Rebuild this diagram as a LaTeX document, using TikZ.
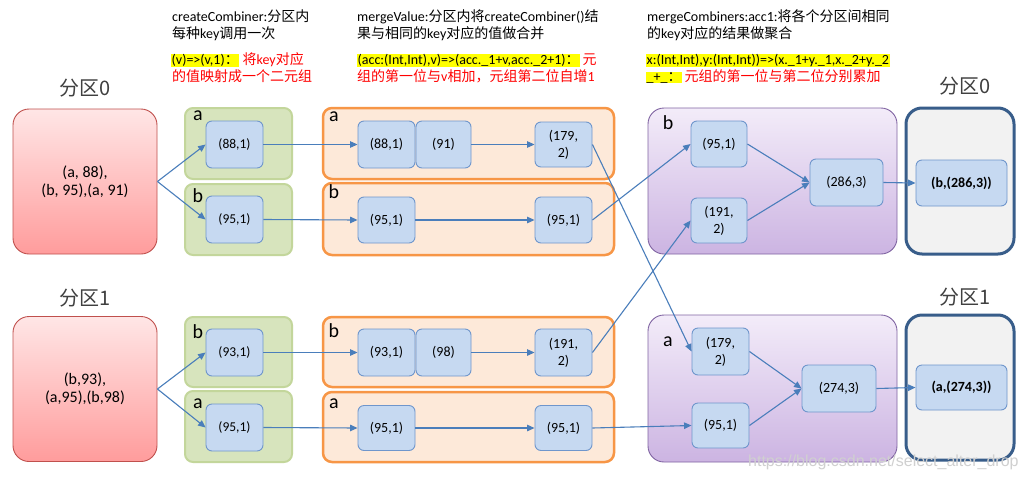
\documentclass[tikz,border=0pt]{standalone}
\usepackage{fontspec}
\setmainfont{Carlito}
\newfontfamily\cjk{Noto Sans CJK SC}
\newfontfamily\wmfont{Liberation Sans}
\usetikzlibrary{arrows.meta}
\definecolor{arr}{HTML}{4A7EBB}
\definecolor{bfill}{HTML}{C6D9F1}
\definecolor{bdraw}{HTML}{6F96CC}
\definecolor{gfill}{HTML}{D7E4BD}
\definecolor{gdraw}{HTML}{C3D69B}
\definecolor{ofill}{HTML}{FDE9D9}
\definecolor{odraw}{HTML}{F79646}
\definecolor{pdraw}{HTML}{8064A2}
\definecolor{ptop}{HTML}{F3ECF9}
\definecolor{pbot}{HTML}{CCB4E2}
\definecolor{rtop}{HTML}{FFE6E6}
\definecolor{rbot}{HTML}{FF9C9C}
\definecolor{rdraw}{HTML}{C0504D}
\definecolor{fdraw}{HTML}{385D8A}
\definecolor{ffill}{HTML}{F2F2F2}
\definecolor{hl}{HTML}{FFFF00}
\definecolor{redtxt}{HTML}{FF0000}
\definecolor{plabel}{HTML}{404040}
\definecolor{wm}{HTML}{D0D0D0}
\tikzset{
  bnode/.style={draw=bdraw, fill=bfill, rounded corners=6pt, line width=0.9pt,
    minimum width=57pt, minimum height=47pt, inner sep=0pt, align=center,
    font=\fontsize{14}{17}\selectfont},
  gnode/.style={bnode, font=\fontsize{13.5}{15}\selectfont},
  redbox/.style={draw=rdraw, line width=0.9pt, top color=rtop, bottom color=rbot,
    rounded corners=16pt, minimum width=144pt, minimum height=145pt, inner sep=0pt,
    align=center, font=\fontsize{16}{18}\selectfont},
  greenbox/.style={draw=gdraw, fill=gfill, line width=2pt, rounded corners=8pt,
    minimum width=107pt, minimum height=71pt, inner sep=0pt},
  orangebox/.style={draw=odraw, fill=ofill, line width=2.5pt, rounded corners=9pt,
    minimum width=291pt, minimum height=71pt, inner sep=0pt},
  purplebox/.style={draw=pdraw, line width=0.9pt, top color=ptop, bottom color=pbot,
    rounded corners=16pt, minimum width=249pt, minimum height=146pt, inner sep=0pt},
  finalbox/.style={draw=fdraw, fill=ffill, line width=3pt, rounded corners=16pt,
    minimum width=108pt, minimum height=146pt, inner sep=0pt},
  fnode/.style={bnode, minimum width=91pt, minimum height=46pt,
    font=\fontsize{14}{16}\selectfont\bfseries},
  keylab/.style={inner sep=0pt, font=\fontsize{20}{20}\selectfont},
  plab/.style={inner sep=0pt, text=plabel, font=\fontsize{20}{20}\selectfont\cjk},
  txt/.style={anchor=base west, inner sep=0pt, font=\fontsize{14}{16}\selectfont},
  hltxt/.style={txt, fill=hl, inner ysep=0.5pt, inner xsep=0.5pt},
  rtxt/.style={txt, text=redtxt},
  conn/.style={draw=arr, line width=1.1pt, -{Triangle[length=7.5pt,width=6.5pt]}}
}
\begin{document}
\begin{tikzpicture}[x=1pt,y=-1pt]
\useasboundingbox (0,0) rectangle (1026,480);
\fill[white] (0,0) rectangle (1026,480);

% ---------- top texts ----------
\node[txt] (t1a) at (172,21) {createCombiner:{\cjk 分区内}};
\node[txt] (t1b) at (172,38) {{\cjk 每种}key{\cjk 调用一次}};
\node[hltxt] (t1c) at (171,64.5) {(v)=>(v,1){\cjk ：}};
\node[rtxt] (t1d) at ([xshift=3pt]t1c.base east) {{\cjk 将}key{\cjk 对应}};
\node[rtxt] (t1e) at (172,81) {\cjk 的值映射成一个二元组};

\node[txt] (t2a) at (357,21) {mergeValue:{\cjk 分区内将}createCombiner(){\cjk 结}};
\node[txt] (t2b) at (357,38) {{\cjk 果与相同的}key{\cjk 对应的值做合并}};
\node[hltxt] (t2c) at (357,64.5) {(acc:(Int,Int),v)=>(acc.\_1+v,acc.\_2+1){\cjk ：}};
\node[rtxt] (t2d) at ([xshift=2pt]t2c.base east) {\cjk 元};
\node[rtxt] (t2e) at (357,81) {{\cjk 组的第一位与}v{\cjk 相加，元组第二位自增}1};

\node[txt] (t3a) at (647,21) {mergeCombiners:acc1:{\cjk 将各个分区间相同}};
\node[txt] (t3b) at (647,38) {{\cjk 的}key{\cjk 对应的结果做聚合}};
\node[hltxt] (t3c) at (646,64.5) {x:(Int,Int),y:(Int,Int))=>(x.\_1+y.\_1,x.\_2+y.\_2};
\node[hltxt] (t3d) at (646,81) {\_+\_{\cjk ：}};
\node[rtxt] (t3e) at ([xshift=2pt]t3d.base east) {\cjk 元组的第一位与第二位分别累加};

% ---------- partition labels ----------
\node[plab] (pl0) at (85,88) {分区0};
\node[plab] (pl1) at (85,298) {分区1};
\node[plab] (pr0) at (965,86) {分区0};
\node[plab] (pr1) at (965,297) {分区1};

% ---------- red source boxes ----------
\node[redbox] (r0) at (85,181.5) {(a, 88),\\(b, 95),(a, 91)};
\node[redbox] (r1) at (85,389) {(b,93),\\(a,95),(b,98)};

% ---------- green boxes ----------
\node[greenbox] (g0a) at (238.5,143.5) {};
\node[greenbox] (g0b) at (238.5,219.5) {};
\node[greenbox, minimum height=70pt] (g1b) at (238.5,352) {};
\node[greenbox] (g1a) at (238.5,426.5) {};
\node[keylab] (lg0a) at (198,116) {a};
\node[keylab] (lg0b) at (198,196) {b};
\node[keylab] (lg1b) at (198,332) {b};
\node[keylab] (lg1a) at (198,404) {a};
\node[gnode] (c0a) at (234.5,144.5) {(88,1)};
\node[gnode] (c0b) at (234.5,219.5) {(95,1)};
\node[gnode] (c1b) at (234.5,352.5) {(93,1)};
\node[gnode] (c1a) at (234.5,427.5) {(95,1)};

% ---------- orange boxes ----------
\node[orangebox] (o0a) at (468.5,143.5) {};
\node[orangebox, minimum height=72pt] (o0b) at (468.5,219) {};
\node[orangebox, minimum height=70pt] (o1b) at (468.5,352) {};
\node[orangebox, minimum height=70pt] (o1a) at (468.5,427) {};
\node[keylab] (lo0a) at (334,117) {a};
\node[keylab] (lo0b) at (334,192) {b};
\node[keylab] (lo1b) at (334,331) {b};
\node[keylab] (lo1a) at (334,404) {a};
\node[bnode] (m0a1) at (386.5,144.5) {(88,1)};
\node[bnode, minimum width=55pt] (m0a2) at (443.5,144.5) {(91)};
\node[bnode, minimum height=45pt] (s0a) at (563.5,144.5) {(179,\\2)};
\node[bnode, minimum height=46pt] (m0b) at (386.5,220) {(95,1)};
\node[bnode, minimum height=46pt] (s0b) at (563.5,220) {(95,1)};
\node[bnode] (m1b1) at (386.5,352.5) {(93,1)};
\node[bnode, minimum width=55pt] (m1b2) at (443.5,352.5) {(98)};
\node[bnode] (s1b) at (563.5,352.5) {(191,\\2)};
\node[bnode, minimum height=45pt] (m1a) at (386.5,428) {(95,1)};
\node[bnode, minimum height=45pt] (s1a) at (563.5,428) {(95,1)};

% ---------- purple boxes ----------
\node[purplebox] (p0) at (772.5,181) {};
\node[purplebox, minimum height=147pt] (p1) at (772.5,388.5) {};
\node[keylab] (lp0) at (668,123) {b};
\node[keylab] (lp1) at (668,342) {a};
\node[bnode, minimum width=56pt, minimum height=46pt] (q0a) at (719,144) {(95,1)};
\node[bnode, minimum width=56pt, minimum height=45pt] (q0b) at (719,220.5) {(191,\\2)};
\node[bnode, minimum width=73pt] (u0) at (846.5,182.5) {(286,3)};
\node[bnode] (q1a) at (720.5,351.5) {(179,\\2)};
\node[bnode, minimum height=45pt] (q1b) at (720.5,425.5) {(95,1)};
\node[bnode, minimum width=74pt] (u1) at (839,388.5) {(274,3)};

% ---------- final boxes ----------
\node[finalbox] (f0) at (960,181) {};
\node[finalbox, minimum height=145pt] (f1) at (960,387.5) {};
\node[fnode] (f0n) at (961.5,183) {(b,(286,3))};
\node[fnode, minimum height=45pt] (f1n) at (961.5,387.5) {(a,(274,3))};

% ---------- connectors ----------
\draw[conn] (r0.east) -- (c0a.west);
\draw[conn] (r0.east) -- (c0b.west);
\draw[conn] (r1.east) -- (c1b.west);
\draw[conn] (r1.east) -- (c1a.west);

\draw[conn] (c0a.east) -- (m0a1.west);
\draw[conn] (m0a2.east) -- (s0a.west);
\draw[conn] (c0b.east) -- (m0b.west);
\draw[conn] (m0b.east) -- (s0b.west);
\draw[conn] (c1b.east) -- (m1b1.west);
\draw[conn] (m1b2.east) -- (s1b.west);
\draw[conn] (c1a.east) -- (m1a.west);
\draw[conn] (m1a.east) -- (s1a.west);

\draw[conn] (s0a.east) -- (q1a.west);
\draw[conn] (s0b.east) -- (q0a.west);
\draw[conn] (s1b.east) -- (q0b.west);
\draw[conn] (s1a.east) -- (q1b.west);

\draw[conn] (q0a.east) -- (u0.west);
\draw[conn] (q0b.east) -- (u0.west);
\draw[conn] (u0.east) -- (f0n.west);
\draw[conn] (q1a.east) -- (u1.west);
\draw[conn] (q1b.east) -- (u1.west);
\draw[conn] (u1.east) -- (f1n.west);

% ---------- watermark ----------
\node[anchor=base west, inner sep=0pt, text=wm, font=\fontsize{16}{18}\wmfont] (wmk) at (748,466) {https://blog.csdn.net/select\_alter\_drop};
\end{tikzpicture}
\end{document}
